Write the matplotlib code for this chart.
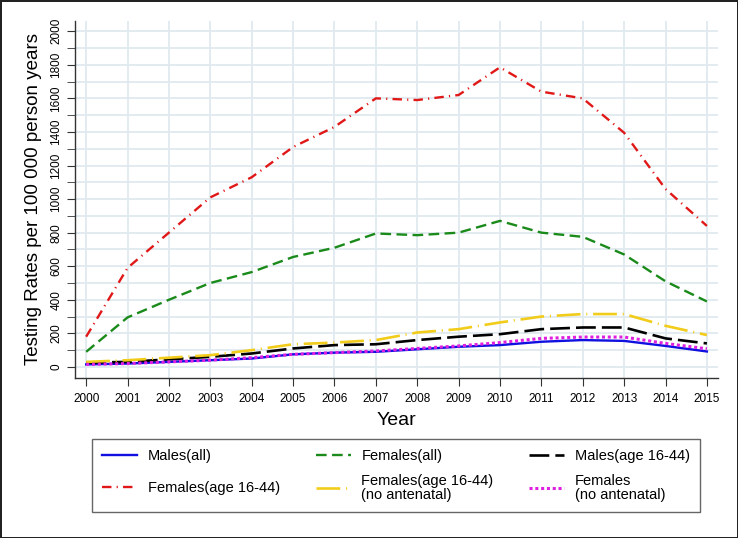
import numpy as np
import matplotlib
matplotlib.use('Agg')
import matplotlib.pyplot as plt
from matplotlib.ticker import MultipleLocator

plt.rc('font', family=['Liberation Sans', 'DejaVu Sans'])

years = list(range(2000, 2016))

males_all = [15, 20, 30, 40, 50, 75, 85, 90, 105, 120, 130, 150, 160, 155, 125, 92]
females_all = [90, 295, 400, 500, 565, 655, 710, 795, 785, 800, 870, 800, 775, 670, 510, 390]
males_16_44 = [25, 30, 45, 60, 80, 110, 130, 135, 160, 180, 195, 225, 235, 235, 170, 140]
females_16_44 = [180, 590, 800, 1010, 1130, 1310, 1430, 1600, 1590, 1620, 1785, 1640, 1600, 1395, 1060, 840]
females_16_44_noant = [30, 40, 55, 70, 100, 135, 145, 160, 205, 225, 265, 300, 315, 315, 245, 190]
females_noant = [15, 20, 30, 40, 55, 75, 85, 95, 110, 125, 145, 170, 178, 178, 140, 108]

fig = plt.figure(figsize=(7.38, 5.38), dpi=100)
fig.patch.set_edgecolor('#222222')
fig.patch.set_linewidth(2.0)
ax = fig.add_axes([0.1016, 0.2974, 0.8714, 0.6636])

grid_col = '#dfe9ee'
ax.set_axisbelow(True)
ax.grid(True, which='both', axis='y', color=grid_col, lw=1.3)
ax.grid(True, which='major', axis='x', color=grid_col, lw=1.3)

ax.plot(years, males_all, color='#1010e0', lw=1.7, label='Males(all)')
ax.plot(years, females_all, color='#1a8a1a', lw=1.7, dashes=(4.5, 2.3), label='Females(all)')
ax.plot(years, males_16_44, color='black', lw=1.9, dashes=(7.5, 2.3), label='Males(age 16-44)')
ax.plot(years, females_16_44, color='#e01818', lw=1.7, dashes=(4, 2.2, 0.5, 2.2), label='Females(age 16-44)')
ax.plot(years, females_16_44_noant, color='#f2cc1a', lw=1.9, dashes=(9, 2.2, 0.4, 2.2),
        label='Females(age 16-44)\n(no antenatal)')
ax.plot(years, females_noant, color='#e020e0', lw=2.2, dashes=(1.0, 0.9), label='Females\n(no antenatal)')

ax.set_xlim(1999.73, 2015.27)
ax.set_ylim(-66, 2061)
ax.set_xticks(years)
ax.yaxis.set_major_locator(MultipleLocator(200))
ax.yaxis.set_minor_locator(MultipleLocator(100))

for s in ['top', 'right']:
    ax.spines[s].set_visible(False)
for s in ['left', 'bottom']:
    ax.spines[s].set_color('#333333')
    ax.spines[s].set_linewidth(1.0)

ax.tick_params(axis='x', labelsize=8.5, length=6, color='#333333', pad=5)
ax.tick_params(axis='y', which='both', labelsize=8.5, length=6, color='#333333', pad=3)
plt.setp(ax.get_yticklabels(), rotation=90, va='center')

ax.set_xlabel('Year', fontsize=14, labelpad=5)
ax.set_ylabel('Testing Rates per 100 000 person years', fontsize=13.5, labelpad=6)

h, l = ax.get_legend_handles_labels()
order = [0, 3, 1, 4, 2, 5]
leg = fig.legend([h[i] for i in order], [l[i] for i in order], ncol=3,
                 loc='upper left', bbox_to_anchor=(0.1247, 0.0502, 0.8238, 0.1338),
                 mode='expand', fontsize=10.5, frameon=True, fancybox=False,
                 edgecolor='#404040', handlelength=2.4, handletextpad=0.75,
                 borderpad=0.68, labelspacing=0.75, borderaxespad=0)
leg.get_frame().set_linewidth(1.0)
for t in leg.get_texts():
    t.set_linespacing(1.0)
# centre the single-line entry of the first column against the two-line ones
col0 = leg._legend_handle_box.get_children()[0]
col0.sep = col0.sep + 0.5 * 10.5

fig.savefig('out.png', dpi=100)
